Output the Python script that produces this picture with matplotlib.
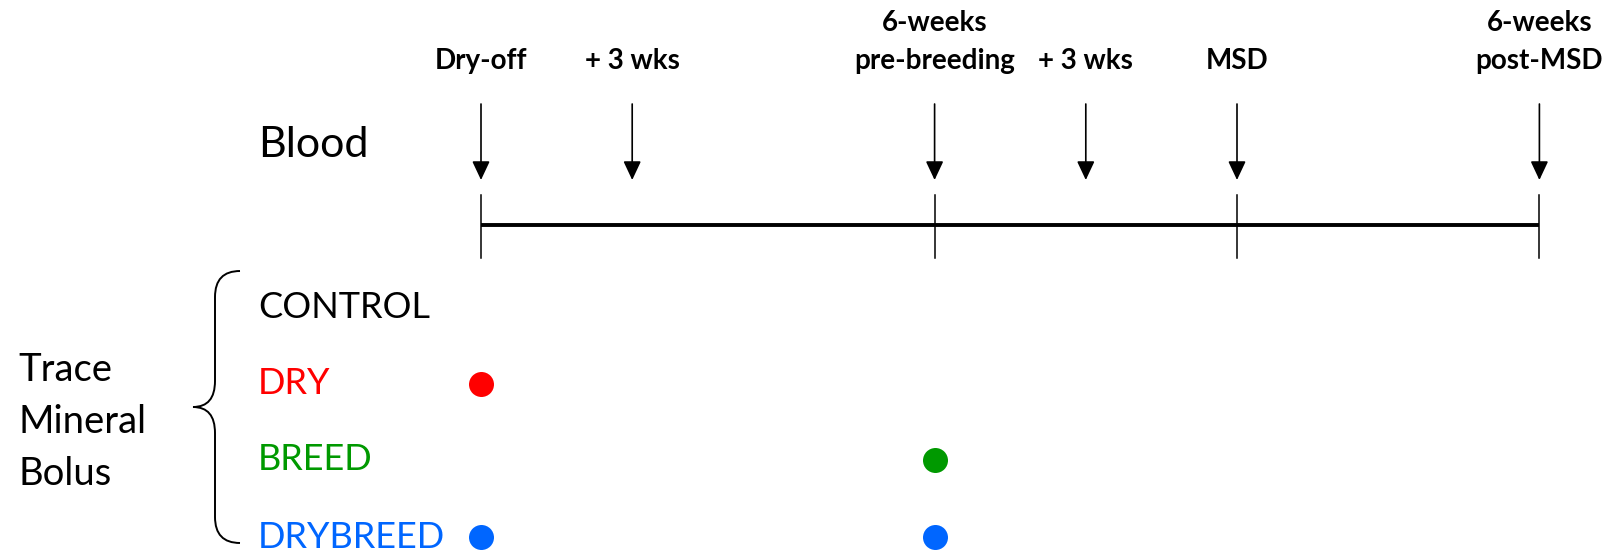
import numpy as np
import matplotlib
matplotlib.use("Agg")
import matplotlib.pyplot as plt
from matplotlib.path import Path
from matplotlib.patches import PathPatch

plt.rcParams['font.family'] = ['Lato', 'DejaVu Sans']

# sampling points (weeks from dry-off)
sample_weeks = [0, 3, 9, 12, 15, 21]
sample_top = ['', '', '6-weeks', '', '', '6-weeks']
sample_bottom = ['Dry-off', '+ 3 wks', 'pre-breeding', '+ 3 wks', 'MSD', 'post-MSD']
tick_weeks = [0, 9, 15, 21]

# treatment groups and bolus times (weeks)
groups = ['CONTROL', 'DRY', 'BREED', 'DRYBREED']
group_colors = ['#000000', '#ff0000', '#009900', '#0066ff']
bolus_weeks = [[], [0], [9], [0, 9]]

# layout (pixel units on y, weeks on x)
px_per_week = 50.4
x0_px = 481
W, H = 1619, 555
row_y = [308, 384, 460, 537]
line_y = 225

fig = plt.figure(figsize=(W / 100, H / 100), dpi=100)
ax = fig.add_axes([0, 0, 1, 1])
ax.set_xlim(-x0_px / px_per_week, (W - x0_px) / px_per_week)
ax.set_ylim(H, 0)
ax.axis('off')

# timeline
ax.plot([sample_weeks[0], sample_weeks[-1]], [line_y, line_y], color='black', lw=2.8, solid_capstyle='butt')
for w in tick_weeks:
    ax.plot([w, w], [195, 258], color='black', lw=1.1)

# blood sampling arrows + labels
for w, top, bot in zip(sample_weeks, sample_top, sample_bottom):
    ax.annotate('', xy=(w, 180), xytext=(w, 104),
                arrowprops=dict(arrowstyle='-|>,head_length=1.15,head_width=0.54',
                                mutation_scale=10, lw=1.2, color='black',
                                shrinkA=0, shrinkB=0))
    ax.text(w, 69, bot, ha='center', va='baseline', fontsize=20, fontweight='bold')
    if top:
        ax.text(w, 31, top, ha='center', va='baseline', fontsize=20, fontweight='bold')

ax.text((258 - x0_px) / px_per_week, 145, 'Blood', ha='left', va='center', fontsize=31)

# groups and bolus dots
for i, g in enumerate(groups):
    ax.text((258 - x0_px) / px_per_week, row_y[i], g, ha='left', va='center',
            fontsize=26, color=group_colors[i])
    for w in bolus_weeks[i]:
        ax.plot(w, row_y[i], 'o', ms=18, color=group_colors[i], mec='none')

ax.text((18 - x0_px) / px_per_week, 422, 'Trace\nMineral\nBolus', ha='left', va='center',
        fontsize=27.5, linespacing=1.55)

# curly brace
xe = (240 - x0_px) / px_per_week   # arm ends
xs = (215 - x0_px) / px_per_week   # stem
xt = (193 - x0_px) / px_per_week   # tip
yt, yb, ym = 271, 543, 407
r = 26
verts = [(xe, yt), (xs, yt), (xs, yt + r),
         (xs, ym - r), (xs, ym), (xt, ym),
         (xs, ym), (xs, ym + r),
         (xs, yb - r), (xs, yb), (xe, yb)]
codes = [Path.MOVETO, Path.CURVE3, Path.CURVE3,
         Path.LINETO, Path.CURVE3, Path.CURVE3,
         Path.CURVE3, Path.CURVE3,
         Path.LINETO, Path.CURVE3, Path.CURVE3]
ax.add_patch(PathPatch(Path(verts, codes), fill=False, lw=1.4, color='black'))

fig.savefig('out.png', dpi=100)
